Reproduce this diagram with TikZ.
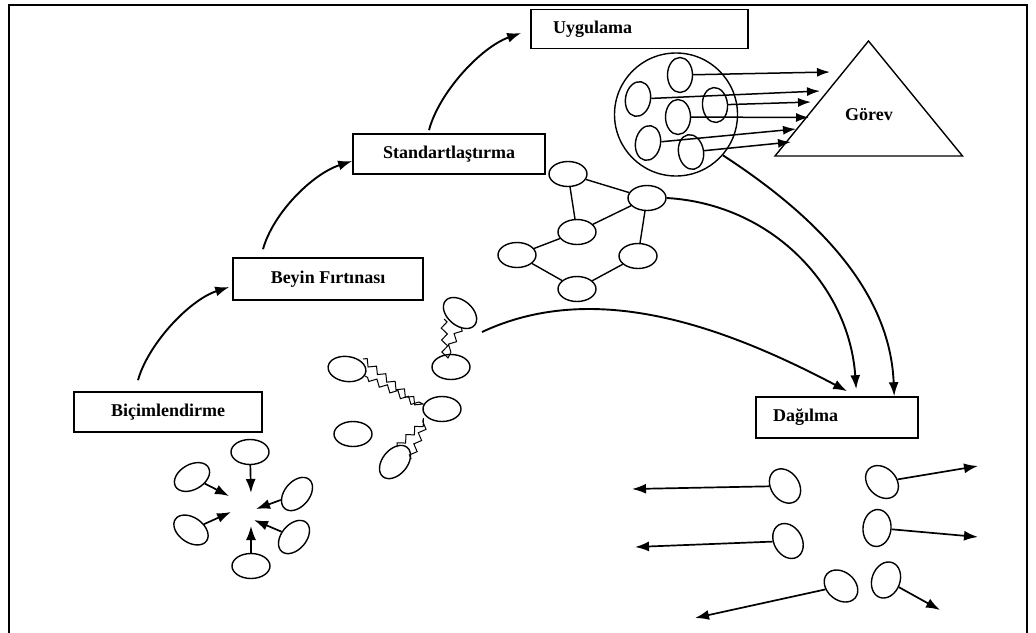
\documentclass[tikz,border=0pt]{standalone}
\usepackage{fontspec}
\setmainfont{Liberation Serif}
\usetikzlibrary{arrows.meta,shapes.geometric,calc,decorations.pathmorphing}
\begin{document}
\begin{tikzpicture}[x=1pt,y=-1pt,
  every node/.style={font=\fontsize{18}{21}\selectfont\bfseries},
  stage/.style={draw, line width=1.6pt, inner sep=0pt},
  blob/.style={ellipse, draw, line width=1.4pt, minimum width=38pt, minimum height=25pt, inner sep=0pt},
  seed/.style={blob, minimum width=35pt, minimum height=25pt},
  flow/.style={line width=1.9pt, -{Latex[length=14pt,width=10pt]}},
  dart/.style={line width=1.7pt, -{Latex[length=14pt,width=10pt]}},
  ray/.style={line width=1.5pt, -{Latex[length=13pt,width=9pt]}},
  link/.style={line width=1.4pt},
  bolt/.style={line width=1pt, decorate, decoration={zigzag, segment length=12pt, amplitude=3pt}},
]
\useasboundingbox (0,0) rectangle (1036,632);

% outer frame, open at the bottom
\draw[line width=2pt] (9,634) -- (9,5) -- (1027,5) -- (1027,634);

% stage boxes
\node[stage, minimum width=188pt, minimum height=40pt] (bic) at (168,412) {Biçimlendirme};
\node[stage, minimum width=190pt, minimum height=42pt] (bey) at (328,279) {Beyin Fırtınası};
\node[stage, minimum width=192pt, minimum height=40pt] (std) at (449,154) {Standartlaştırma};
\node[stage, minimum height=39pt, inner xsep=22pt, text width=173pt, align=left] (uyg) at (639.5,29) {Uygulama};
\node[stage, minimum height=41pt, inner xsep=17pt, text width=128pt, align=left] (dag) at (837,417.5) {Dağılma};

% stage-to-stage arcs
\draw[flow] ([xshift=-30pt,yshift=11pt]bic.north) .. controls +(10,-36) and +(-40,13) .. ([xshift=-3pt,yshift=-8pt]bey.west);
\draw[flow] ([xshift=-65pt,yshift=8pt]bey.north) .. controls +(10,-36) and +(-40,13) .. ([yshift=-7pt]std.west);
\draw[flow] ([xshift=-20pt,yshift=3pt]std.north) .. controls +(10,-38) and +(-40,14) .. ([xshift=-9pt,yshift=-4pt]uyg.west);

% task triangle
\coordinate (gtop) at (868.5,41);
\coordinate (gleft) at (775,156);
\coordinate (gright) at (962.5,156);
\draw[line width=1.4pt, line join=miter] (gtop) -- (gright) -- (gleft) -- cycle;
\node (gor) at (869,115) {Görev};

% formation: members converging on a common centre
\node[blob] (c1) at (250,452) {};
\node[blob, rotate=30] (c2) at (192,477) {};
\node[blob, rotate=50] (c3) at (297,494) {};
\node[blob, rotate=-35] (c4) at (191,530) {};
\node[blob, rotate=50] (c5) at (294,537) {};
\node[blob] (c6) at (251,566) {};
\coordinate (ct1) at (251,493);
\coordinate (ct2) at (229,496);
\coordinate (ct3) at (256,509);
\coordinate (ct4) at (231,512);
\coordinate (ct5) at (254,520);
\coordinate (ct6) at (251,526);
\foreach \i in {1,...,6} \draw[dart] (c\i) -- (ct\i);

% brainstorming: members sparking off each other
\node[blob, rotate=-40] (b1) at (460,313) {};
\node[blob] (b2) at (451,367) {};
\node[blob, rotate=-8] (b3) at (347,369) {};
\node[blob] (b4) at (442,409) {};
\node[blob] (b5) at (353,434) {};
\node[blob, rotate=50] (b6) at (395,462) {};
\draw[bolt] ($(b1)+(-16,6)$) -- ($(b2)+(-6,-10)$) -- ($(b1)+(1,14)$);
\draw[bolt] ($(b3)+(16,-10)$) -- ($(b4)+(-20,-2)$) -- ($(b3)+(18,7)$);
\draw[bolt] ($(b6)+(2,-15)$) -- ($(b4)+(-15,10)$) -- ($(b6)+(16,-3)$);
\coordinate (bsout) at (482,332);

% standardisation: a linked network
\node[blob] (n1) at (568,174) {};
\node[blob] (n2) at (647,198) {};
\node[blob] (n3) at (577,232) {};
\node[blob] (n4) at (517,255) {};
\node[blob] (n5) at (638,256) {};
\node[blob] (n6) at (577,289) {};
\draw[link] (n1) -- (n2) (n1) -- (n3) (n2) -- (n3) (n2) -- (n5)
            (n3) -- (n4) (n4) -- (n6) (n5) -- (n6);

% performing: the group aimed at the task
\node[circle, draw, line width=1.4pt, minimum size=123pt, inner sep=0pt] (grp) at (676,114.5) {};
\node[seed, rotate=90] (e1) at (680,75) {};
\node[seed, rotate=80] (e2) at (638,99) {};
\node[seed, rotate=95] (e3) at (715,105) {};
\node[seed, rotate=90] (e4) at (678,117) {};
\node[seed, rotate=80] (e5) at (648,143) {};
\node[seed, rotate=100] (e6) at (691,152) {};
\coordinate (g1) at (830,72);
\coordinate (g2) at (820,91);
\coordinate (g3) at (811,102);
\coordinate (g4) at (809,117.5);
\coordinate (g5) at (796,129);
\coordinate (g6) at (791,142);
\foreach \i in {1,...,6} \draw[ray] (e\i) -- (g\i);

% adjourning: members drifting apart
\node[blob, minimum width=37pt, minimum height=28pt, rotate=-55] (d1) at (785,486) {};
\node[blob, minimum width=37pt, minimum height=28pt, rotate=-45] (d2) at (882,482) {};
\node[blob, minimum width=37pt, minimum height=28pt, rotate=-60] (d3) at (788,541) {};
\node[blob, minimum width=37pt, minimum height=28pt, rotate=85] (d4) at (877,528) {};
\node[blob, minimum width=37pt, minimum height=28pt, rotate=-40] (d5) at (841,586) {};
\node[blob, minimum width=37pt, minimum height=28pt, rotate=70] (d6) at (886,580) {};
\coordinate (dt1) at (632,489);
\coordinate (dt2) at (978,466);
\coordinate (dt3) at (635,547);
\coordinate (dt4) at (978,537);
\coordinate (dt5) at (695,618);
\coordinate (dt6) at (940,610);
\foreach \i in {1,...,6} \draw[dart] (d\i) -- (dt\i);

% every stage can end in adjourning
\draw[flow] (bsout) .. controls (591,281) and (716,322) .. ([xshift=92pt,yshift=5pt]dag.north west);
\draw[flow] (n2.east) .. controls (771,204) and (849,285) .. ([xshift=101pt,yshift=7pt]dag.north west);
\draw[flow] (grp.-41) .. controls (810,212) and (890,287) .. ([xshift=139pt]dag.north west);
\end{tikzpicture}
\end{document}
